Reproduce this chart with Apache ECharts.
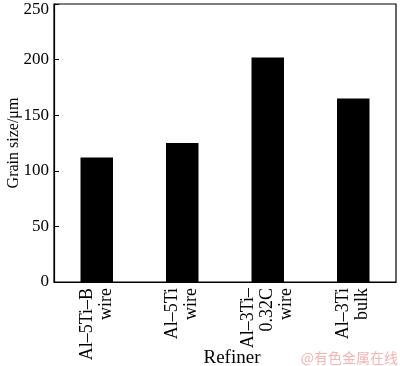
<!DOCTYPE html>
<html><head><meta charset="utf-8">
<script src="https://cdn.jsdelivr.net/npm/echarts@6/dist/echarts.min.js"></script>
<style>html,body{margin:0;padding:0;background:#fff}#c{width:400px;height:366px}</style>
</head><body><div id="c"></div>
<script>
const categories = ['Al\u20135Ti\u2013B\nwire', 'Al\u20135Ti\nwire', 'Al\u20133Ti\u2013\n0.32C\nwire', 'Al\u20133Ti\nbulk'];
const grainSize = [112, 125, 202, 165];
const yTicks = [0, 50, 100, 150, 200, 250];

const font = 'Liberation Serif, Times New Roman, serif';
const chart = echarts.init(document.getElementById('c'), null, {renderer: 'canvas'});
chart.setOption({
  animation: false,
  grid: {left: 54, right: 4, top: 4, bottom: 84, show: true, borderColor: '#000', borderWidth: 1.2,
    containLabel: false, outerBoundsMode: 'none'},
  xAxis: {
    type: 'category', data: categories,
    name: 'Refiner', nameLocation: 'middle', nameGap: 67, nameMoveOverlap: false,
    nameTextStyle: {fontFamily: font, fontSize: 19, color: '#000', padding: [0, 0, 0, 14]},
    axisLine: {lineStyle: {color: '#000', width: 1.2}},
    axisTick: {show: false},
    axisLabel: {rotate: 90, fontFamily: font, fontSize: 18, color: '#000', lineHeight: 19, margin: 6}
  },
  yAxis: {
    type: 'value', min: 0, max: 250, interval: 50,
    name: 'Grain size/\u03bcm', nameLocation: 'middle', nameGap: 32, nameMoveOverlap: false,
    nameTextStyle: {fontFamily: font, fontSize: 16, color: '#000'},
    axisLine: {show: true, lineStyle: {color: '#000', width: 1.2}},
    axisTick: {show: true, inside: true, length: 5, lineStyle: {color: '#000'}},
    splitLine: {show: false},
    axisLabel: {fontFamily: font, fontSize: 17, color: '#000', margin: 5,
      formatter: v => v === 250 ? '{top|250}' : (yTicks.includes(v) ? String(v) : ''),
      rich: {top: {fontFamily: font, fontSize: 17, color: '#000', padding: [12, 0, 0, 0]}}}
  },
  series: [{
    type: 'bar', data: grainSize, barWidth: '38%',
    itemStyle: {color: '#000'}
  }],
  graphic: [{
    type: 'text', right: 2, top: 351,
    style: {text: '@有色金属在线', font: '14px "Noto Sans CJK SC"', fill: '#f4b4b4'}
  }]
});
</script></body></html>
